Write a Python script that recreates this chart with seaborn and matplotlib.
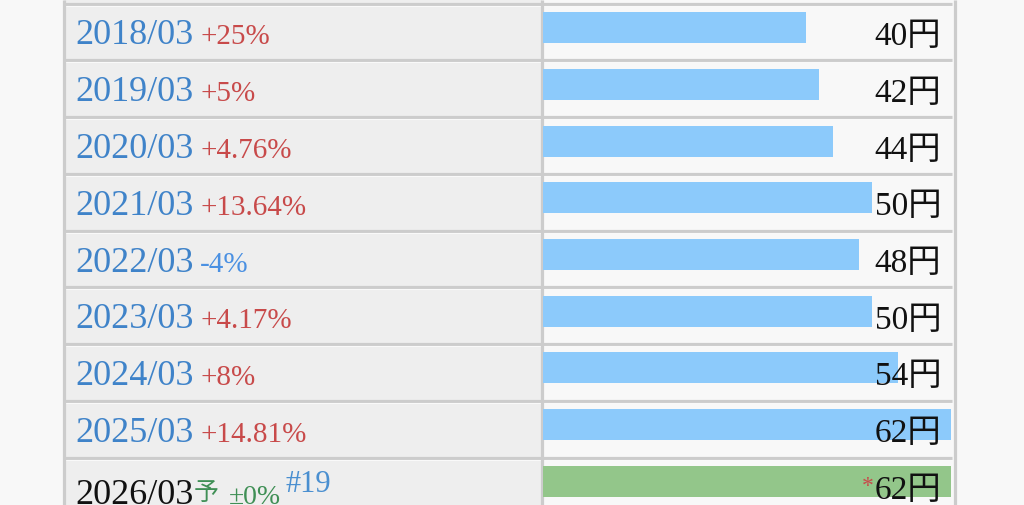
"""Dividend history table with inline bars."""
import pandas as pd
import matplotlib
matplotlib.use('Agg')
import matplotlib.pyplot as plt
import seaborn as sns

# Chart data
periods = ['2018/03', '2019/03', '2020/03', '2021/03', '2022/03',
           '2023/03', '2024/03', '2025/03', '2026/03']
changes = ['+25%', '+5%', '+4.76%', '+13.64%', '-4%',
           '+4.17%', '+8%', '+14.81%', '±0%']
dividends = [40, 42, 44, 50, 48, 50, 54, 62, 62]
is_forecast = [False] * 8 + [True]
forecast_rank = '#19'

SERIF = ['Liberation Serif', 'Noto Sans CJK JP', 'DejaVu Sans']
BLUE_BAR = '#8ccafb'
GREEN_BAR = '#93c68a'
LINE = '#cccccc'

df = pd.DataFrame({'period': periods, 'change': changes,
                   'dividend': dividends, 'forecast': is_forecast})

W, H = 1024, 505
fig = plt.figure(figsize=(W / 100, H / 100), dpi=100)
fig.patch.set_facecolor('#f8f8f8')

# background axes in pixel coordinates for the table frame
bg = fig.add_axes([0, 0, 1, 1])
bg.set_xlim(0, W)
bg.set_ylim(H, 0)
bg.axis('off')

row_h = 56.75
top = 3.5
left_x, mid_x, right_x = 64, 541.5, 952
bg.add_patch(plt.Rectangle((left_x, 0), mid_x - left_x, H, color='#eeeeee', lw=0))
bg.add_patch(plt.Rectangle((mid_x, 0), right_x - mid_x, H, color='#f8f8f8', lw=0))
for i in range(len(periods) + 1):
    y = top + row_h * i
    bg.plot([left_x, right_x], [y, y], color=LINE, lw=2.3, solid_capstyle='butt')
    bg.plot([left_x, right_x], [y + 2.2, y + 2.2], color='#f9f9f9', lw=0.8)
for x in (left_x, mid_x, 955):
    bg.plot([x, x], [0, H], color=LINE, lw=2.3, solid_capstyle='butt')

# bar axes: categories map onto table rows
bar_cy = 27.5
ax = fig.add_axes([543 / W, 0, (951 - 543) / W, 1])
ax.patch.set_alpha(0)
palette = {p: (GREEN_BAR if f else BLUE_BAR) for p, f in zip(periods, is_forecast)}
sns.barplot(data=df, y='period', x='dividend', hue='period', palette=palette,
            orient='h', width=31 / row_h, linewidth=0, saturation=1,
            legend=False, ax=ax)
ax.set_xlim(0, max(dividends))
ax.set_ylim((H - bar_cy) / row_h, -bar_cy / row_h)
ax.axis('off')

# value labels
for i, (v, f) in enumerate(zip(dividends, is_forecast)):
    yb = i + (45 - bar_cy) / row_h
    ax.text(0.976, yb, f'{v}円', transform=ax.get_yaxis_transform(),
            ha='right', va='baseline', fontsize=24, family=SERIF,
            color='#111111', clip_on=False, zorder=5)
    if f:
        ax.text(0.81, yb - 0.12, '*', transform=ax.get_yaxis_transform(),
                ha='right', va='baseline', fontsize=17, family=SERIF,
                color='#c94a4a', clip_on=False, zorder=5)

# row labels
for i, (p, c, f) in enumerate(zip(periods, changes, is_forecast)):
    yb = 44.5 + row_h * i
    if not f:
        bg.text(75, yb, p, fontsize=26, family=SERIF, color='#3f83c9', va='baseline')
        ccol = '#4a90e2' if c.startswith('-') else '#c84a4a'
        bg.text(200, yb, c, fontsize=21, family=SERIF, color=ccol, va='baseline')
    else:
        yb += 5
        bg.text(75, yb, p, fontsize=26, family=SERIF, color='#111111', va='baseline')
        bg.text(194, yb - 3, '予', fontsize=18, family=SERIF, color='#3f8f55', va='baseline')
        bg.text(229, yb, c, fontsize=20, family=SERIF, color='#3f8f55', va='baseline')
        bg.text(285, yb - 12, forecast_rank, fontsize=22, family=SERIF,
                color='#4a8fd0', va='baseline')

plt.savefig('out.png', dpi=100, facecolor=fig.get_facecolor())
plt.close()
